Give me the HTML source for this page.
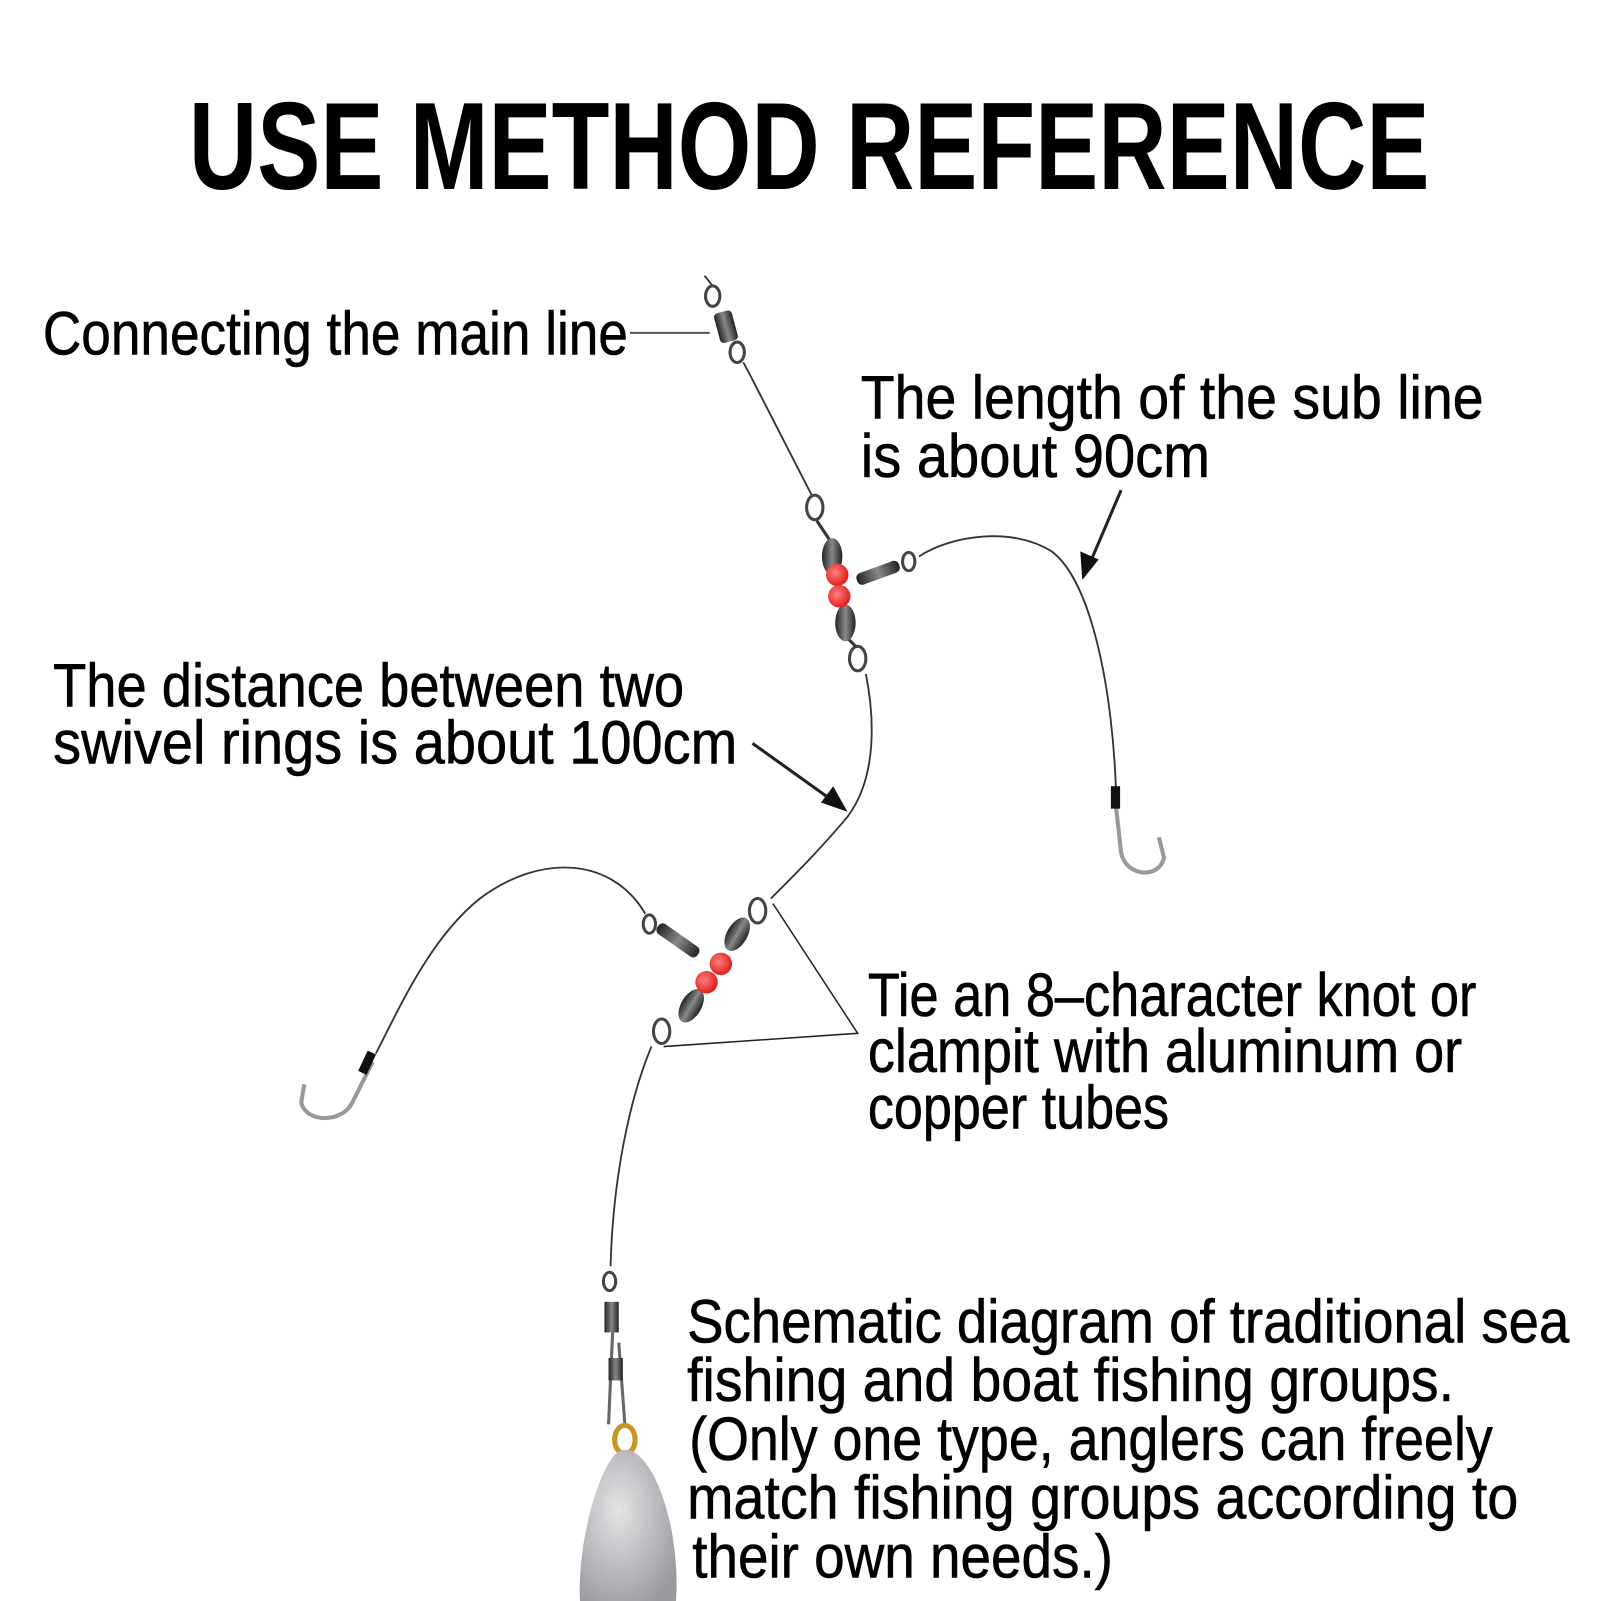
<!DOCTYPE html>
<html><head><meta charset="utf-8"><style>
html,body{margin:0;padding:0;background:#fff;}
svg{display:block;}
text{font-family:"Liberation Sans",sans-serif;fill:#000;}
</style></head><body>
<svg width="1601" height="1601" viewBox="0 0 1568 1568" xmlns="http://www.w3.org/2000/svg">
<defs>
<linearGradient id="metal" x1="0" x2="1"><stop offset="0" stop-color="#222"/><stop offset="0.5" stop-color="#888"/><stop offset="1" stop-color="#222"/></linearGradient>
<radialGradient id="sink" cx="0.4" cy="0.4" r="0.7"><stop offset="0" stop-color="#e4e4e6"/><stop offset="1" stop-color="#9a9aa0"/></radialGradient>
<radialGradient id="bead" cx="0.4" cy="0.4" r="0.6"><stop offset="0" stop-color="#ff8080"/><stop offset="1" stop-color="#e0201c"/></radialGradient>
</defs>
<rect width="1568" height="1568" fill="#fff"/>
<text x="185" y="185" font-size="122" font-weight="bold" textLength="1215" lengthAdjust="spacingAndGlyphs">USE METHOD REFERENCE</text>
<g font-size="60" stroke="#000" stroke-width="0.6">
<text x="42" y="347" textLength="573" lengthAdjust="spacingAndGlyphs">Connecting the main line</text>
<text x="843" y="410" textLength="610" lengthAdjust="spacingAndGlyphs">The length of the sub line</text>
<text x="843" y="467" textLength="342" lengthAdjust="spacingAndGlyphs">is about 90cm</text>
<text x="52" y="692" textLength="618" lengthAdjust="spacingAndGlyphs">The distance between two</text>
<text x="52" y="748" textLength="670" lengthAdjust="spacingAndGlyphs">swivel rings is about 100cm</text>
<text x="850" y="995" textLength="596" lengthAdjust="spacingAndGlyphs">Tie an 8–character knot or</text>
<text x="850" y="1050" textLength="582" lengthAdjust="spacingAndGlyphs">clampit with aluminum or</text>
<text x="850" y="1105" textLength="295" lengthAdjust="spacingAndGlyphs">copper tubes</text>
<text x="673" y="1315" textLength="864" lengthAdjust="spacingAndGlyphs">Schematic diagram of traditional sea</text>
<text x="673" y="1372" textLength="751" lengthAdjust="spacingAndGlyphs">fishing and boat fishing groups.</text>
<text x="675" y="1430" textLength="787" lengthAdjust="spacingAndGlyphs">(Only one type, anglers can freely</text>
<text x="673" y="1487" textLength="814" lengthAdjust="spacingAndGlyphs">match fishing groups according to</text>
<text x="678" y="1545" textLength="412" lengthAdjust="spacingAndGlyphs">their own needs.)</text>
</g>
<g stroke="#222" fill="none" stroke-width="2">
<line x1="617" y1="326" x2="695" y2="326" stroke="#555"/>
<line x1="1098" y1="480" x2="1066" y2="555" stroke-width="3"/>
<line x1="737" y1="728" x2="818" y2="786" stroke-width="3"/>
<polyline points="757,885 840,1012 650,1025" stroke-width="1.5"/>
</g>
<polygon points="1060,568 1058,540 1076,548" fill="#111"/>
<polygon points="830,795 804,786 816,770" fill="#111"/>
<g stroke="#333" fill="none" stroke-width="1.8">
<path d="M735,368 L795,485"/>
<path d="M900,545 C930,525 990,515 1030,540 C1070,570 1090,680 1093,775"/>
<path d="M848,660 C856,700 860,760 830,800 C805,830 780,855 755,880"/>
<path d="M632,895 C600,840 530,835 470,880 C420,920 390,990 368,1032"/>
<path d="M638,1025 C615,1080 600,1160 598,1240"/>
<path d="M690,270 L698,280 M728,355 L735,368"/>
</g>
<g stroke="#444" fill="none" stroke-width="3">
<ellipse cx="698" cy="290" rx="7" ry="10"/>
<ellipse cx="722" cy="345" rx="7" ry="10"/>
<ellipse cx="798" cy="497" rx="8" ry="12"/>
<ellipse cx="840" cy="645" rx="8" ry="12"/>
<ellipse cx="890" cy="550" rx="6" ry="9"/>
<ellipse cx="742" cy="892" rx="8" ry="12"/>
<ellipse cx="648" cy="1010" rx="8" ry="12"/>
<ellipse cx="636" cy="905" rx="6" ry="9"/>
<ellipse cx="597" cy="1255" rx="6" ry="9"/>
</g>
<rect x="702" y="305" width="18" height="30" rx="4" fill="url(#metal)" transform="rotate(-15 711 320)"/>
<path d="M800,510 L812,528 M830,625 L838,633" stroke="#333" stroke-width="3"/>
<ellipse cx="815" cy="545" rx="10" ry="18" fill="url(#metal)"/>
<ellipse cx="828" cy="610" rx="10" ry="18" fill="url(#metal)"/>
<rect x="838" y="555" width="44" height="12" rx="5" fill="url(#metal)" transform="rotate(-20 860 561)"/>
<circle cx="820" cy="563" r="11" fill="url(#bead)"/>
<circle cx="822" cy="584" r="11" fill="url(#bead)"/>
<ellipse cx="722" cy="915" rx="10" ry="18" fill="url(#metal)" transform="rotate(30 722 915)"/>
<ellipse cx="677" cy="985" rx="10" ry="18" fill="url(#metal)" transform="rotate(30 677 985)"/>
<rect x="640" y="915" width="48" height="12" rx="5" fill="url(#metal)" transform="rotate(35 664 921)"/>
<circle cx="706" cy="944" r="11" fill="url(#bead)"/>
<circle cx="692" cy="962" r="11" fill="url(#bead)"/>
<g fill="none" stroke="#999" stroke-width="4">
<path d="M1093,790 L1098,835 C1102,858 1135,862 1140,840 L1135,820"/>
<path d="M365,1040 L345,1080 C335,1100 300,1100 295,1080 L298,1062"/>
</g>
<rect x="1088" y="770" width="9" height="22" fill="#111"/>
<rect x="355" y="1030" width="9" height="22" fill="#111" transform="rotate(25 360 1041)"/>
<rect x="592" y="1275" width="14" height="30" fill="url(#metal)"/>
<path d="M600,1305 L596,1395 M606,1315 L612,1395" stroke="#666" stroke-width="3" fill="none"/>
<rect x="596" y="1330" width="14" height="22" fill="url(#metal)"/>
<ellipse cx="612" cy="1410" rx="10" ry="14" fill="none" stroke="#c8961e" stroke-width="5"/>
<path d="M612,1420 C630,1420 648,1450 658,1500 C665,1540 662,1568 662,1568 L568,1568 C566,1530 575,1480 590,1445 C598,1428 604,1420 612,1420 Z" fill="url(#sink)"/>
</svg>
</body></html>
